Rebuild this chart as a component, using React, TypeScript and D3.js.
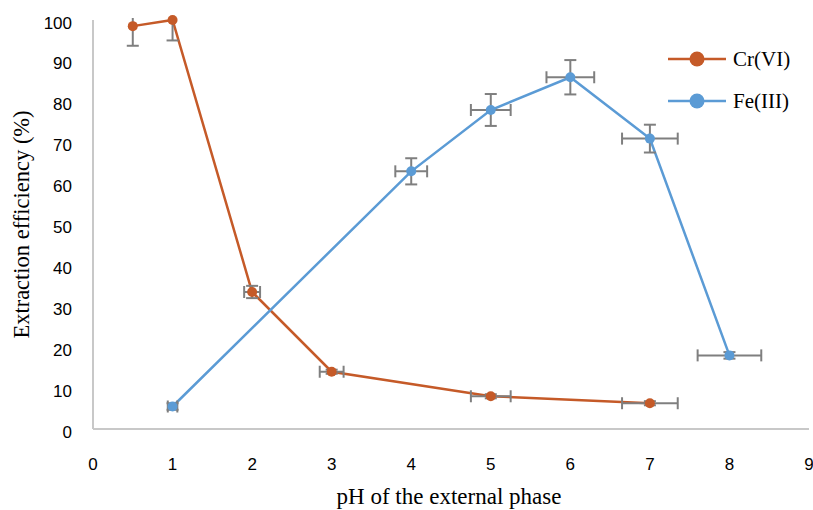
import React, { useEffect, useRef } from 'react'
import * as d3 from 'd3'

// pH values and extraction efficiency (%) with error bars
const crPH = [0.5, 1, 2, 3, 5, 7]
const crValues = [98.5, 100, 33.5, 14, 8, 6.3]
const crErrY = [4.8, 5, 1.5, 0.5, 0.5, 0.5]
const crErrX = [0, 0, 0.1, 0.15, 0.25, 0.35]

const fePH = [1, 4, 5, 6, 7, 8]
const feValues = [5.5, 63, 78, 86, 71, 18]
const feErrY = [0.8, 3.2, 3.9, 4.2, 3.4, 0.8]
const feErrX = [0.06, 0.2, 0.25, 0.3, 0.35, 0.4]

const xTicks = [0, 1, 2, 3, 4, 5, 6, 7, 8, 9]
const yTicks = [0, 10, 20, 30, 40, 50, 60, 70, 80, 90, 100]

const seriesNames = ['Cr(VI)', 'Fe(III)']
const seriesColors = ['#C55A28', '#5B9BD5']

export default function App() {
	const ref = useRef<SVGSVGElement>(null)

	const width = 813
	const height = 510
	const margin = { top: 20, right: 4, bottom: 81, left: 93 }

	useEffect(() => {
		const svg = d3.select(ref.current)
		svg.selectAll('*').remove()

		const x = d3.scaleLinear().domain([0, 9]).range([margin.left, width - margin.right])
		const y = d3.scaleLinear().domain([0, 100]).range([height - margin.bottom, margin.top])

		const g = svg.append('g')

		// clip error bars at the top of the plot area
		svg.append('defs').append('clipPath').attr('id', 'plot-clip')
			.append('rect')
			.attr('x', margin.left - 20)
			.attr('y', margin.top - 2)
			.attr('width', width - margin.left - margin.right + 40)
			.attr('height', height - margin.top - margin.bottom + 20)

		// Axes lines
		g.append('line')
			.attr('x1', x(0)).attr('x2', x(0))
			.attr('y1', y(0)).attr('y2', y(100))
			.attr('stroke', '#c8c8c8').attr('stroke-width', 2)
		g.append('line')
			.attr('x1', x(0)).attr('x2', x(9))
			.attr('y1', y(0)).attr('y2', y(0))
			.attr('stroke', '#c8c8c8').attr('stroke-width', 2)

		// Tick labels
		g.selectAll('.ytick')
			.data(yTicks)
			.enter()
			.append('text')
			.attr('x', 72)
			.attr('y', (d: number) => y(d) + 3)
			.attr('text-anchor', 'end')
			.attr('dominant-baseline', 'central')
			.style('font-family', 'Liberation Sans, Arial, sans-serif')
			.style('font-size', '17px')
			.style('fill', '#000')
			.text((d: number) => d)

		g.selectAll('.xtick')
			.data(xTicks)
			.enter()
			.append('text')
			.attr('x', (d: number) => x(d))
			.attr('y', 464)
			.attr('text-anchor', 'middle')
			.attr('dominant-baseline', 'central')
			.style('font-family', 'Liberation Sans, Arial, sans-serif')
			.style('font-size', '17px')
			.style('fill', '#000')
			.text((d: number) => d)

		// Axis titles
		g.append('text')
			.attr('x', 449)
			.attr('y', 496)
			.attr('text-anchor', 'middle')
			.attr('dominant-baseline', 'central')
			.style('font-family', 'Liberation Serif, Times New Roman, serif')
			.style('font-size', '23px')
			.text('pH of the external phase')

		g.append('text')
			.attr('transform', `translate(21, ${(y(0) + y(100)) / 2}) rotate(-90)`)
			.attr('text-anchor', 'middle')
			.attr('dominant-baseline', 'central')
			.style('font-family', 'Liberation Serif, Times New Roman, serif')
			.style('font-size', '22.5px')
			.text('Extraction efficiency (%)')

		const series = [
			{ xs: crPH, ys: crValues, ex: crErrX, ey: crErrY },
			{ xs: fePH, ys: feValues, ex: feErrX, ey: feErrY },
		]

		const lineGen = d3.line<[number, number]>()
			.x((d) => x(d[0]))
			.y((d) => y(d[1]))

		series.forEach((s, k) => {
			const pts = s.xs.map((v, i) => [v, s.ys[i]] as [number, number])
			g.append('path')
				.attr('d', lineGen(pts))
				.attr('fill', 'none')
				.attr('stroke', seriesColors[k])
				.attr('stroke-width', 2.5)
		})

		// Error bars over the lines
		const eb = g.append('g').attr('clip-path', 'url(#plot-clip)')
		const cap = 6
		series.forEach((s) => {
			s.xs.forEach((v, i) => {
				const cx = x(v)
				const cy = y(s.ys[i])
				const ey = s.ey[i]
				const ex = s.ex[i]
				const bar = (x1: number, y1: number, x2: number, y2: number) =>
					eb.append('line')
						.attr('x1', x1).attr('y1', y1).attr('x2', x2).attr('y2', y2)
						.attr('stroke', '#7f7f7f').attr('stroke-width', 2)
				if (ey > 0) {
					const t = y(s.ys[i] + ey)
					const b = y(s.ys[i] - ey)
					bar(cx, t, cx, b)
					bar(cx - cap, t, cx + cap, t)
					bar(cx - cap, b, cx + cap, b)
				}
				if (ex > 0) {
					const l = x(v - ex)
					const r = x(v + ex)
					bar(l, cy, r, cy)
					bar(l, cy - cap, l, cy + cap)
					bar(r, cy - cap, r, cy + cap)
				}
			})
		})

		// Markers
		series.forEach((s, k) => {
			g.selectAll(null)
				.data(s.xs)
				.enter()
				.append('circle')
				.attr('cx', (d: number) => x(d))
				.attr('cy', (_: number, i: number) => y(s.ys[i]))
				.attr('r', 5)
				.attr('fill', seriesColors[k])
		})

		// Legend
		const legend = g.append('g')
		seriesNames.forEach((name, k) => {
			const ly = 59 + k * 42
			legend.append('line')
				.attr('x1', 668).attr('x2', 726)
				.attr('y1', ly).attr('y2', ly)
				.attr('stroke', seriesColors[k])
				.attr('stroke-width', 2.5)
			legend.append('circle')
				.attr('cx', 697).attr('cy', ly)
				.attr('r', 7.5)
				.attr('fill', seriesColors[k])
			legend.append('text')
				.attr('x', 733)
				.attr('y', ly)
				.attr('dominant-baseline', 'central')
				.style('font-family', 'Liberation Serif, Times New Roman, serif')
				.style('font-size', '21px')
				.text(name)
		})
	// eslint-disable-next-line react-hooks/exhaustive-deps
	}, [])

	return (
		<svg
			ref={ref}
			width={width}
			height={height}
			style={{ position: 'absolute', left: 0, top: 0, background: '#fff' }}
		/>
	)
}
